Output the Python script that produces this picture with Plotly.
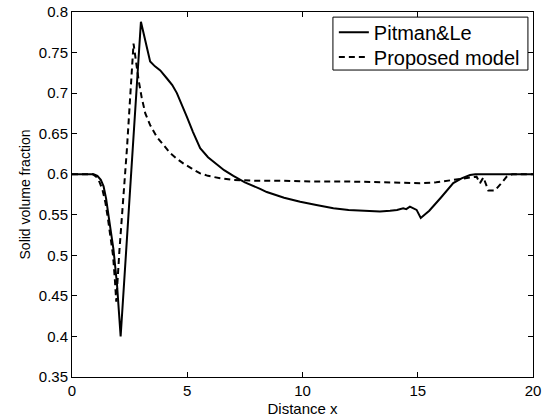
import plotly.graph_objects as go

# Pitman&Le (solid)
pitman_x = [0, 0.5, 0.94, 1.1, 1.25, 1.37, 1.48, 1.59, 1.70, 1.80, 1.95, 2.05, 2.11,
            2.99, 3.10, 3.27, 3.39, 3.6, 3.83, 4.12, 4.35, 4.55, 4.75, 4.98, 5.25, 5.56,
            5.9, 6.28, 6.6, 7.0, 7.5, 8.16, 8.45, 9.2, 9.9, 10.6, 11.34, 12.0, 12.6,
            12.93, 13.36, 13.8, 14.1, 14.37, 14.5, 14.66, 14.8, 14.95, 15.13, 15.5,
            16.0, 16.54, 16.9, 17.27, 17.5, 17.7, 18.5, 20]
pitman_y = [0.6, 0.6, 0.6, 0.598, 0.593, 0.585, 0.57, 0.548, 0.528, 0.507, 0.465, 0.43, 0.400,
            0.788, 0.774, 0.754, 0.739, 0.733, 0.728, 0.718, 0.710, 0.700, 0.687, 0.671, 0.652, 0.632,
            0.621, 0.612, 0.605, 0.598, 0.590, 0.582, 0.578, 0.571, 0.566, 0.562, 0.558, 0.556, 0.555,
            0.554, 0.554, 0.555, 0.556, 0.558, 0.557, 0.560, 0.558, 0.556, 0.546, 0.555,
            0.571, 0.589, 0.595, 0.599, 0.6, 0.6, 0.6, 0.6]

# Proposed model (dashed)
model_x = [0, 0.5, 0.9, 1.05, 1.2, 1.33, 1.45, 1.56, 1.67, 1.78, 1.86, 1.92, 2.06, 2.38,
           2.67, 2.78, 2.89, 3.02, 3.18, 3.4, 3.68, 4.0, 4.26, 4.55, 4.84, 5.2, 5.56, 5.9,
           6.43, 7.0, 8.0, 9.17, 10.5, 12.0, 13.36, 14.5, 15.1, 15.8, 16.54, 17.2, 17.55,
           17.7, 17.85, 18.06, 18.35, 18.6, 18.86, 19.1, 20]
model_y = [0.6, 0.6, 0.6, 0.597, 0.59, 0.58, 0.565, 0.545, 0.52, 0.50, 0.47, 0.443, 0.507, 0.63,
           0.761, 0.735, 0.716, 0.695, 0.675, 0.66, 0.646, 0.635, 0.626, 0.619, 0.613, 0.607, 0.601, 0.598,
           0.595, 0.593, 0.592, 0.592, 0.591, 0.591, 0.590, 0.589, 0.589, 0.590, 0.593, 0.595, 0.597,
           0.589, 0.596, 0.580, 0.580, 0.588, 0.597, 0.6, 0.6]

x_ticks = [0, 5, 10, 15, 20]
y_ticks = [0.35, 0.4, 0.45, 0.5, 0.55, 0.6, 0.65, 0.7, 0.75, 0.8]
y_labels = ['0.35', '0.4', '0.45', '0.5', '0.55', '0.6', '0.65', '0.7', '0.75', '0.8']

fig = go.Figure()
fig.add_trace(go.Scatter(x=pitman_x, y=pitman_y, mode='lines', name='Pitman&Le',
                         line=dict(color='black', width=2), legend='legend'))
fig.add_trace(go.Scatter(x=model_x, y=model_y, mode='lines', name='Proposed model',
                         line=dict(color='black', width=2, dash='6px,4px'), legend='legend2'))

axis_style = dict(showgrid=False, zeroline=False, showline=True, linecolor='black',
                  linewidth=1, mirror='ticks', ticks='inside', ticklen=5,
                  tickcolor='black', automargin=False,
                  tickfont=dict(size=15, color='black'))

# two single-item legends so the row spacing can match, one box drawn round both
leg = dict(xanchor='left', yanchor='top', bgcolor='rgba(0,0,0,0)', borderwidth=0,
           font=dict(size=20, color='black'), itemwidth=30)

fig.update_layout(
    width=550, height=418,
    margin=dict(l=72, r=17, t=12, b=41),
    plot_bgcolor='white', paper_bgcolor='white',
    font=dict(family='Liberation Sans, Arial, sans-serif', color='black'),
    showlegend=True,
    xaxis=dict(range=[0, 20], tickvals=x_ticks,
               title=dict(text='Distance x', font=dict(size=15), standoff=5),
               **axis_style),
    yaxis=dict(range=[0.35, 0.8], tickvals=y_ticks, ticktext=y_labels,
               title=dict(text='Solid volume fraction', font=dict(size=14), standoff=4),
               **axis_style),
    legend=dict(x=0.568, y=0.998, **leg),
    legend2=dict(x=0.568, y=0.93, **leg),
    shapes=[dict(type='rect', xref='paper', yref='paper', x0=0.566, x1=0.989,
                 y0=0.841, y1=0.986, line=dict(color='black', width=1), layer='above')],
)

fig.write_html("out.html", config={'displayModeBar': False},
               post_script="document.body.style.margin='0px';")
